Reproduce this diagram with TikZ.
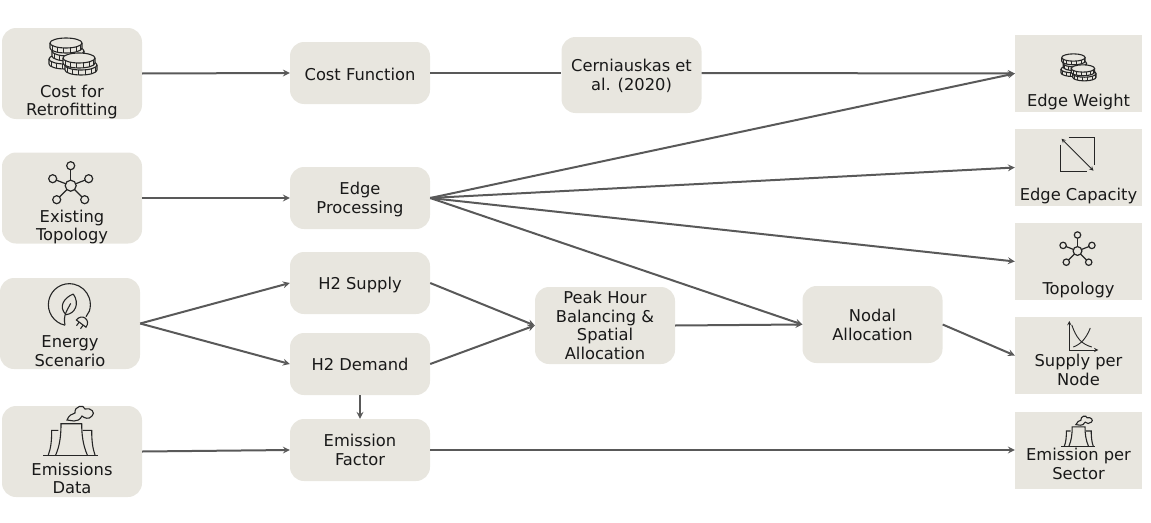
\documentclass[tikz,border=0pt]{standalone}
\usepackage{fontspec}
\setmainfont{DejaVu Sans}
\definecolor{boxc}{HTML}{E8E6DF}
\definecolor{edgec}{HTML}{595959}
\definecolor{iconc}{HTML}{262626}
\newcommand{\coin}[2]{%
  \draw[fill=boxc] (#1-16,#2) -- ++(0,5) arc (180:0:16 and 5) -- ++(0,-5);
  \foreach \a in {25,50,...,155} {
    \draw[line width=0.6pt] ({#1+16*cos(\a)},{#2+5*sin(\a)}) -- ++(0,5);
  }
  \draw[fill=boxc] (#1,#2) ellipse (16 and 5);
}
\tikzset{
    b1/.style={fill=boxc, rounded corners=14pt, inner sep=0pt, minimum width=140pt},
    b2/.style={fill=boxc, inner sep=0pt, minimum width=127pt, minimum height=77pt},
    txt/.style={align=center, inner sep=0pt, text=black!90, font=\fontsize{16.3}{18.8}\selectfont},
    e1/.style={draw=edgec, ->, >=stealth, line width=2pt},
    e0/.style={draw=edgec, line width=2pt},
    coins/.pic={
        \begin{scope}[iconc, line width=1.1pt]
        \coin{-10}{3}
        \coin{-7}{-5}
        \coin{-9}{-13}
        \coin{6}{9}
        \coin{4}{2}
        \end{scope}
    },
    network/.pic={
        \begin{scope}[iconc, line width=1.2pt]
        \foreach \p/\q in {0/-20, 18/-7, -18/-7, -14/14, 14/14} {
            \draw (0,0) -- (\p,\q);
            \draw[fill=boxc] (\p,\q) circle (4);
        }
        \draw[fill=boxc] (0,0) circle (5.5);
        \end{scope}
    },
    leafplug/.pic={
        \begin{scope}[iconc, line width=1.1pt]
        \draw (-4,18.5) arc (102:378:21) -- (17,10);
        \draw (4.3,-12.7) .. controls (-5,-9) and (-11,0) .. (-3,8)
              .. controls (6,7) and (11,-3) .. (4.3,-12.7);
        \draw (1.7,-3.3) .. controls (-2,4) and (-6,8) .. (-4,18.5);
        \draw (7.4,13.3) .. controls (12.8,6.1) and (22.4,13.3) .. (17,20.5) -- cycle;
        \draw (14.2,18.4) -- (11.5,22);
        \draw (10.2,15.4) -- (7.5,19);
        \end{scope}
    },
    plant/.pic={
        \begin{scope}[iconc, line width=1.1pt]
        \draw (-28.7,15.3) -- (26.3,15.3);
        \draw (-16.3,15) .. controls (-12,5) and (-11,-5) .. (-11,-16.3) -- (9.7,-16.3)
              .. controls (9.7,-5) and (11,5) .. (15.3,15);
        \draw (-13.7,-9.7) -- (-20.3,-9.7) .. controls (-20.3,0) and (-21,8) .. (-23.7,15);
        \draw (10.7,-9.7) -- (19.7,-9.7) .. controls (19.7,0) and (20.5,8) .. (23,15);
        \draw (-5,-20) .. controls (-3,-25) and (0,-26) .. (3,-27)
              .. controls (2,-34) and (12,-36) .. (13,-31)
              .. controls (19,-33) and (24,-27) .. (20,-24)
              .. controls (17,-20) and (12,-22) .. (10,-24)
              .. controls (8,-20) and (5,-19) .. (2,-19) -- cycle;
        \end{scope}
    },
    capacity/.pic={
        \begin{scope}[iconc, line width=0.9pt]
        \draw (-9,-17) -- (17,-17) -- (17,10);
        \draw (-17,-10) -- (-17,17) -- (9,17);
        \draw[<->, >=stealth] (-16,-16) -- (16,16);
        \end{scope}
    },
    curves/.pic={
        \begin{scope}[iconc, line width=0.9pt]
        \draw[<->, >=stealth] (0,-29) -- (0,0) -- (29,0);
        \draw (2.5,-25) .. controls (7,-12) and (12,-6) .. (22.5,-3);
        \draw (21,-22) .. controls (17,-12) and (12,-6) .. (4,-3);
        \end{scope}
    }
}
\begin{document}
\begin{tikzpicture}[x=1pt, y=-1pt]
\useasboundingbox (0,0) rectangle (1151,522);

% Inputs
\node[b1, minimum height=91pt] (Cost) at (72,73.5) {};
\node[b1, minimum height=91pt] (Topo) at (72,198) {};
\node[b1, minimum height=91pt] (Scen) at (70,323.5) {};
\node[b1, minimum height=91pt] (Data) at (72,451.5) {};

\node[txt] (CostT) at (72,102) {Cost for\\Retrofitting};
\node[txt] (TopoT) at (72,227) {Existing\\Topology};
\node[txt] (ScenT) at (70,351) {Energy\\Scenario};
\node[txt] (DataT) at (72,478.5) {Emissions\\Data};

\pic at (75,56) {coins};
\pic at (70.7,185.7) {network};
\pic at (69,306.7) {leafplug};
\pic at (72,440) {plant};

% Processing
\node[b1, minimum height=62pt] (CostF) at (360,73) {};
\node[b1, minimum height=62pt] (Proc) at (360,198) {};
\node[b1, minimum height=62pt] (Sup) at (360,283) {};
\node[b1, minimum height=62pt] (Dem) at (360,364) {};
\node[b1, minimum height=62pt] (Fact) at (360,450) {};

\node[b1, minimum height=76pt] (Cern) at (631.5,75) {};
\node[b1, minimum height=77pt] (Peak) at (605,325.5) {};
\node[b1, minimum height=77pt] (Nodal) at (872.5,324.5) {};

\node[txt] (CostFT) at (360,74) {Cost Function};
\node[txt] (ProcT) at (360,199.5) {Edge\\Processing};
\node[txt] (SupT) at (360,285) {H2 Supply};
\node[txt] (DemT) at (360,364) {H2 Demand};
\node[txt] (FactT) at (360,450) {Emission\\Factor};
\node[txt] (CernT) at (631.5,76) {Cerniauskas et\\al. (2020)};
\node[txt] (PeakT) at (605,325.5) {Peak Hour\\Balancing \&\\Spatial\\Allocation};
\node[txt] (NodalT) at (872.5,325) {Nodal\\Allocation};

% Outputs
\node[b2] (Weight) at (1078.5,73.5) {};
\node[b2] (Capa) at (1078.5,167.5) {};
\node[b2] (Topol) at (1078.5,261.5) {};
\node[b2] (Node) at (1078.5,355.5) {};
\node[b2] (Sect) at (1078.5,450) {};

\node[txt] (WeightT) at (1078.5,102) {Edge Weight};
\node[txt] (CapaT) at (1078.5,196) {Edge Capacity};
\node[txt] (TopolT) at (1078.5,290) {Topology};
\node[txt] (NodeT) at (1078.5,370) {Supply per\\Node};
\node[txt] (SectT) at (1078.5,464) {Emission per\\Sector};

\pic[scale=0.73] at (1080,67) {coins};
\pic at (1077.5,154.7) {capacity};
\pic[scale=0.8] at (1077.5,251) {network};
\pic at (1069.3,350) {curves};
\pic[scale=0.62] at (1079,437) {plant};

% Edges
\draw[e1] (Cost.east) -- (CostF.west);
\draw[e0] (CostF.east) -- (Cern.west |- CostF.east);
\draw[e1] (Cern.east |- CostF.east) -- (Weight.west);
\draw[e1] (Topo.east) -- (Proc.west);
\draw[e1] (Proc.east) -- (Weight.west);
\draw[e1] (Proc.east) -- (Capa.west);
\draw[e1] (Proc.east) -- (Topol.west);
\draw[e1] (Proc.east) -- (Nodal.west);
\draw[e1] (Scen.east) -- (Sup.west);
\draw[e1] (Scen.east) -- (Dem.west);
\draw[e1] (Sup.east) -- (Peak.west);
\draw[e1] (Dem.east) -- (Peak.west);
\draw[e1] (Peak.east) -- (Nodal.west);
\draw[e1] (Nodal.east) -- (Node.west);
\draw[e1] (Dem.south) -- (Fact.north);
\draw[e1] (Data.east) -- (Fact.west);
\draw[e1] (Fact.east) -- (Sect.west);

\end{tikzpicture}
\end{document}
